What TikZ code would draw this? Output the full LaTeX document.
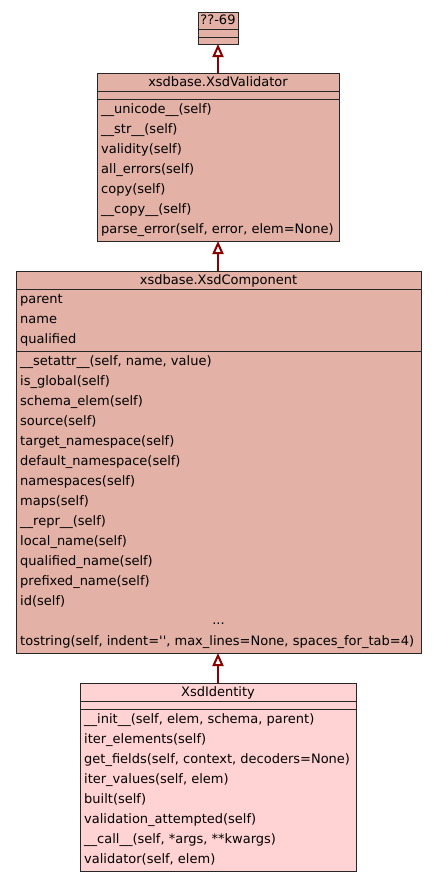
\documentclass[tikz,border=0pt]{standalone}
\usepackage{fontspec}
\setmainfont{DejaVu Sans}[Ligatures=TeXOff]
\usetikzlibrary{arrows.meta}
\definecolor{boxfill}{RGB}{227,177,165}
\definecolor{leaffill}{RGB}{255,211,211}
\definecolor{arrowred}{RGB}{139,0,0}
\begin{document}
\begin{tikzpicture}[x=1pt,y=-1pt,
  cls/.style={draw=black!85, line width=1pt, fill=boxfill, inner sep=0pt, outer sep=0pt, anchor=north west},
  leaf/.style={cls, fill=leaffill},
  sep/.style={draw=black!85, line width=1pt},
  row/.style={anchor=base west, inner sep=0pt, font=\fontsize{13}{15}\selectfont},
  ttl/.style={anchor=base, inner sep=0pt, font=\fontsize{13}{15}\selectfont},
  inh/.style={draw=arrowred, line width=2pt, -{Triangle[open, length=13pt, width=11pt, fill=white, line width=2pt]}}]
\useasboundingbox (0,0) rectangle (437,881);
\fill[white] (0,0) rectangle (437,881);

% Box 1
\node[cls, minimum width=40pt, minimum height=32pt] (b1) at (198,12) {};
\draw[sep] (198,29) -- (238,29) (198,37) -- (238,37);
\node[ttl] (t1) at (218,24) {??-69};

% Box 2
\node[cls, minimum width=242pt, minimum height=168pt] (b2) at (97,73) {};
\draw[sep] (97,91) -- (339,91) (97,99) -- (339,99);
\node[ttl] (t2) at (218,86) {xsdbase.XsdValidator};
\foreach \t [count=\i from 0] in {{\_\_unicode\_\_(self)},{\_\_str\_\_(self)},{validity(self)},{all\_errors(self)},{copy(self)},{\_\_copy\_\_(self)},{parse\_error(self, error, elem=None)}}
  \node[row] (m2-\i) at (101,113+20*\i) {\t};

% Box 3
\node[cls, minimum width=405pt, minimum height=382pt] (b3) at (16,271) {};
\draw[sep] (16,289) -- (421,289) (16,351) -- (421,351);
\node[ttl] (t3) at (218.5,284) {xsdbase.XsdComponent};
\foreach \t [count=\i from 0] in {parent,name,qualified}
  \node[row] (a3-\i) at (20,303+20*\i) {\t};
\foreach \t [count=\i from 0] in {{\_\_setattr\_\_(self, name, value)},{is\_global(self)},{schema\_elem(self)},{source(self)},{target\_namespace(self)},{default\_namespace(self)},{namespaces(self)},{maps(self)},{\_\_repr\_\_(self)},{local\_name(self)},{qualified\_name(self)},{prefixed\_name(self)},{id(self)}}
  \node[row] (m3-\i) at (20,365+20*\i) {\t};
\node[ttl] (dots) at (218.5,624) {...};
\node[row] (m3-last) at (20,645) {tostring(self, indent='', max\_lines=None, spaces\_for\_tab=4)};

% Box 4
\node[leaf, minimum width=276pt, minimum height=188pt] (b4) at (80,683) {};
\draw[sep] (80,701) -- (356,701) (80,709) -- (356,709);
\node[ttl] (t4) at (218,696) {XsdIdentity};
\foreach \t [count=\i from 0] in {{\_\_init\_\_(self, elem, schema, parent)},{iter\_elements(self)},{get\_fields(self, context, decoders=None)},{iter\_values(self, elem)},{built(self)},{validation\_attempted(self)},{\_\_call\_\_(self, *args, **kwargs)},{validator(self, elem)}}
  \node[row] (m4-\i) at (84,723+20*\i) {\t};

% Inheritance arrows
\draw[inh] (b2.north) -- (b1.south);
\draw[inh] (b3.north -| b2.north) -- (b2.south);
\draw[inh] (b4.north) -- (b3.south -| b4.north);
\end{tikzpicture}
\end{document}
